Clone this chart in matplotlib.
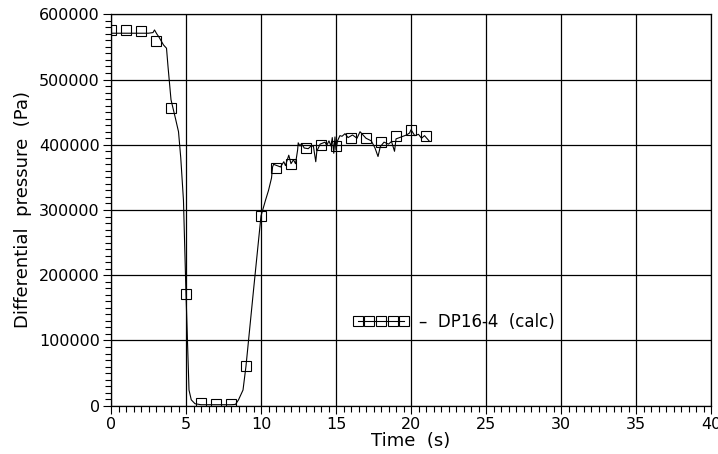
import numpy as np
from matplotlib import pyplot as plt
from matplotlib.ticker import MultipleLocator

# calculated trace (time in s, pressure in Pa)
t_line = [0.0, 0.5, 1.0, 1.5, 2.0, 2.5, 2.8, 2.9, 3.05, 3.2, 3.5, 3.7, 3.8,
          4.0, 4.3, 4.5, 4.65, 4.83, 5.0, 5.2, 5.35, 5.6, 6.0, 7.0, 8.0, 8.3,
          8.5, 8.8, 9.0, 9.5, 10.0, 10.2, 10.3, 10.5, 10.7, 10.77, 10.84, 11.3,
          11.52, 11.63, 11.85, 12.0, 12.16, 12.3, 12.44, 12.48, 12.6, 12.7,
          12.88, 13.15, 13.33, 13.49, 13.65, 13.72, 13.94, 14.27, 14.38, 14.53,
          14.67, 14.75, 14.85, 14.93, 15.0, 15.1, 15.26, 15.4, 15.6, 15.8, 16.1,
          16.4, 16.6, 17.0, 17.35, 17.6, 17.8, 17.95, 18.2, 18.5, 18.7, 18.9,
          19.0, 19.35, 19.7, 19.9, 20.0, 20.25, 20.5, 20.7, 20.9, 21.2]
p_line = [571000, 571000, 571000, 571000, 571000, 571000, 572000, 576000,
          570000, 565000, 553000, 548000, 520000, 469000, 440000, 420000,
          380000, 315000, 171000, 24000, 9000, 3000, 1500, 1500, 1500, 2000,
          9000, 24000, 61000, 177000, 291000, 307000, 315000, 330000, 349000,
          366000, 370000, 366000, 374000, 368000, 384000, 371000, 377000,
          371000, 392000, 403000, 398000, 402000, 395000, 394000, 398000,
          398000, 374000, 390000, 401000, 404000, 399000, 406000, 398000,
          411000, 387000, 412000, 392000, 406000, 414000, 413000, 417000,
          411000, 415000, 410000, 420000, 410000, 406000, 395000, 382000,
          397000, 404000, 401000, 405000, 390000, 409000, 412000, 415000,
          418000, 423000, 414000, 416000, 410000, 414000, 406000]

# markers every second
t_mark = np.arange(0, 22)
p_mark = [576000, 576000, 575000, 559000, 456000, 171000, 4000, 3000, 3000,
          61000, 291000, 364000, 370000, 395000, 400000, 398000, 410000,
          410000, 405000, 413000, 423000, 413000]

fig = plt.figure(figsize=(7.18, 4.54), dpi=100)
ax = fig.add_axes([0.1546, 0.1064, 0.8357, 0.8621])

ax.plot(t_line, p_line, color="black", lw=0.8, zorder=3)
ax.plot(t_mark, p_mark, ls="none", marker="s", ms=6.5, mfc="none",
        mec="black", mew=0.8, zorder=4)

# legend entry: line with five small squares side by side
ax.plot([], [], color="black", lw=0.8, marker="s", ms=7.5, mfc="none",
        mec="black", mew=0.8, label="–  DP16-4  (calc)")
leg = ax.legend(loc="center left", bbox_to_anchor=(0.378, 0.214),
                frameon=False, numpoints=5, handlelength=3.4,
                handletextpad=0.6, fontsize=12)

ax.set_xlim(0, 40)
ax.set_ylim(0, 600000)
ax.xaxis.set_major_locator(MultipleLocator(5))
ax.xaxis.set_minor_locator(MultipleLocator(0.5))
ax.yaxis.set_major_locator(MultipleLocator(100000))
ax.yaxis.set_minor_locator(MultipleLocator(10000))
ax.tick_params(which="major", length=6, width=0.8, labelsize=11.5, pad=2)
ax.tick_params(which="minor", length=4, width=0.8)
ax.grid(True, which="major", color="black", lw=0.9)
for s in ax.spines.values():
    s.set_linewidth(0.9)

ax.set_xlabel("Time  (s)", fontsize=13, labelpad=0)
ax.set_ylabel("Differential  pressure  (Pa)", fontsize=13, labelpad=5)

fig.savefig("out.png", dpi=100)
